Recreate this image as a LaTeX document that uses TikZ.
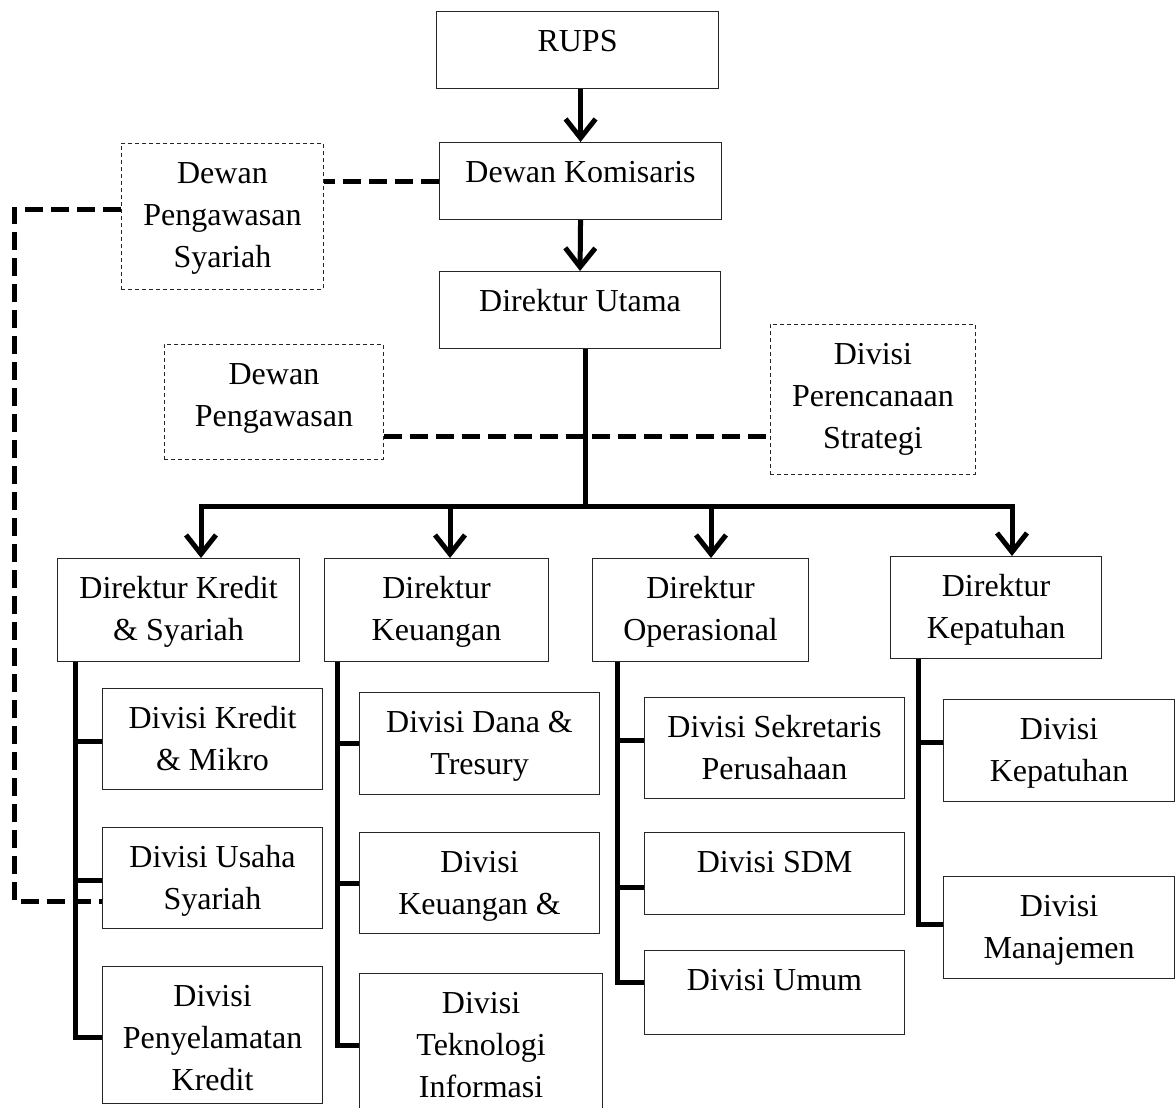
\documentclass[tikz,border=0pt]{standalone}
\usepackage{fontspec}
\setmainfont{Liberation Serif}
\usetikzlibrary{arrows.meta}
\newcommand{\bxt}[1]{\begin{tabular}{@{}c@{}}#1\end{tabular}}
\begin{document}
\begin{tikzpicture}[x=1pt,y=-1pt,
 box/.style={draw=black!85, line width=1.1pt, inner sep=0pt, anchor=north west},
 dbox/.style={box, dash pattern=on 4pt off 3pt, line width=0.9pt},
 txt/.style={font=\fontsize{32}{42}\selectfont, inner sep=0pt, anchor=north, yshift=-10.6pt},
 conn/.style={line width=5pt},
 arr/.style={conn, -{Straight Barb[length=19pt,width=30pt]}},
 dconn/.style={line width=5pt, dash pattern=on 18pt off 8pt}]
\useasboundingbox (0,0) rectangle (1175,1108);
\clip (0,0) rectangle (1175,1108);
% top boxes
\node[box, minimum width=282pt, minimum height=77pt] (rups) at (436,11) {};
\node[txt] (rups-t) at (rups.north) {\bxt{RUPS}};
\node[box, minimum width=282pt, minimum height=77pt] (dk) at (439,142) {};
\node[txt] (dk-t) at (dk.north) {\bxt{Dewan Komisaris}};
\node[box, minimum width=281pt, minimum height=77pt] (du) at (439,271) {};
\node[txt] (du-t) at (du.north) {\bxt{Direktur Utama}};
% dashed boxes
\node[dbox, minimum width=202pt, minimum height=146pt] (dps) at (121,143) {};
\node[txt] (dps-t) at (dps.north) {\bxt{Dewan\\Pengawasan\\Syariah}};
\node[dbox, minimum width=219pt, minimum height=115pt] (dp) at (164,344) {};
\node[txt] (dp-t) at (dp.north) {\bxt{Dewan\\Pengawasan}};
\node[dbox, minimum width=205pt, minimum height=150pt] (dpst) at (770,324) {};
\node[txt] (dpst-t) at (dpst.north) {\bxt{Divisi\\Perencanaan\\Strategi}};
% directors
\node[box, minimum width=242pt, minimum height=103pt] (dks) at (57,558) {};
\node[txt] (dks-t) at (dks.north) {\bxt{Direktur Kredit\\\& Syariah}};
\node[box, minimum width=224pt, minimum height=103pt] (dku) at (324,558) {};
\node[txt] (dku-t) at (dku.north) {\bxt{Direktur\\Keuangan}};
\node[box, minimum width=216pt, minimum height=103pt] (dop) at (592,558) {};
\node[txt] (dop-t) at (dop.north) {\bxt{Direktur\\Operasional}};
\node[box, minimum width=211pt, minimum height=102pt] (dkp) at (890,556) {};
\node[txt] (dkp-t) at (dkp.north) {\bxt{Direktur\\Kepatuhan}};
% divisions - kredit
\node[box, minimum width=220pt, minimum height=101pt] (dkm) at (102,688) {};
\node[txt] (dkm-t) at (dkm.north) {\bxt{Divisi Kredit\\\& Mikro}};
\node[box, minimum width=220pt, minimum height=101pt] (dus) at (102,827) {};
\node[txt] (dus-t) at (dus.north) {\bxt{Divisi Usaha\\Syariah}};
\node[box, minimum width=220pt, minimum height=137pt] (dpk) at (102,966) {};
\node[txt] (dpk-t) at (dpk.north) {\bxt{Divisi\\Penyelamatan\\Kredit}};
% keuangan
\node[box, minimum width=240pt, minimum height=102pt] (ddt) at (359,692) {};
\node[txt] (ddt-t) at (ddt.north) {\bxt{Divisi Dana \&\\Tresury}};
\node[box, minimum width=240pt, minimum height=101pt] (dke) at (359,832) {};
\node[txt] (dke-t) at (dke.north) {\bxt{Divisi\\Keuangan \&}};
\node[box, minimum width=243pt, minimum height=144pt] (dti) at (359,973) {};
\node[txt] (dti-t) at (dti.north) {\bxt{Divisi\\Teknologi\\Informasi}};
% operasional
\node[box, minimum width=260pt, minimum height=101pt] (dsp) at (644,697) {};
\node[txt] (dsp-t) at (dsp.north) {\bxt{Divisi Sekretaris\\Perusahaan}};
\node[box, minimum width=260pt, minimum height=82pt] (dsdm) at (644,832) {};
\node[txt] (dsdm-t) at (dsdm.north) {\bxt{Divisi SDM}};
\node[box, minimum width=260pt, minimum height=84pt] (dum) at (644,950) {};
\node[txt] (dum-t) at (dum.north) {\bxt{Divisi Umum}};
% kepatuhan
\node[box, minimum width=231pt, minimum height=102pt] (dkpt) at (943,699) {};
\node[txt] (dkpt-t) at (dkpt.north) {\bxt{Divisi\\Kepatuhan}};
\node[box, minimum width=231pt, minimum height=102pt] (dman) at (943,876) {};
\node[txt] (dman-t) at (dman.north) {\bxt{Divisi\\Manajemen}};
% coordinates
\coordinate (hub) at (585,506);
\coordinate (b1) at (201,506);
\coordinate (b2) at (450,506);
\coordinate (b3) at (711,506);
\coordinate (b4) at (1012,506);
\coordinate (kv) at (75,0);
\coordinate (ku) at (337,0);
\coordinate (ov) at (617,0);
\coordinate (kpv) at (918,0);
\coordinate (dl) at (0,436);
\coordinate (cL) at (14,901);
% dashed connectors
\draw[dconn] (dk.west) -- (dk.west -| dps.east);
\draw[dconn] ([yshift=7pt]dps.west) -| (cL) -- (cL -| dus.west);
\draw[dconn] (dl -| dp.east) -- (dl -| dpst.west);
% solid connectors
\draw[arr] (rups.south -| dk.north) -- (dk.north);
\draw[arr] (dk.south -| dk.north) -- (du.north);
\draw[conn] (du.south -| hub) -- (hub);
\draw[conn, line cap=rect] (b1) -- (b4);
\draw[arr] (b1) -- (b1 |- dks.north);
\draw[arr] (b2) -- (b2 |- dku.north);
\draw[arr] (b3) -- (b3 |- dop.north);
\draw[arr] (b4) -- (b4 |- dkp.north);
% kredit branch
\draw[conn] (dks.south -| kv) |- ([yshift=-2pt]dpk.west);
\draw[conn] ([yshift=-2pt]dkm.west) -- ([yshift=-2pt]dkm.west -| kv);
\draw[conn] ([yshift=-2pt]dus.west) -- ([yshift=-2pt]dus.west -| kv);
% keuangan branch
\draw[conn] (dku.south -| ku) |- (dti.west);
\draw[conn] (ddt.west) -- (ddt.west -| ku);
\draw[conn] (dke.west) -- (dke.west -| ku);
% operasional branch
\draw[conn] (dop.south -| ov) |- ([yshift=10pt]dum.west);
\draw[conn] ([yshift=8pt]dsp.west) -- ([yshift=8pt]dsp.west -| ov);
\draw[conn] ([yshift=-14pt]dsdm.west) -- ([yshift=-14pt]dsdm.west -| ov);
% kepatuhan branch
\draw[conn] (dkp.south -| kpv) |- ([yshift=3pt]dman.west);
\draw[conn] ([yshift=8pt]dkpt.west) -- ([yshift=8pt]dkpt.west -| kpv);
\end{tikzpicture}
\end{document}
